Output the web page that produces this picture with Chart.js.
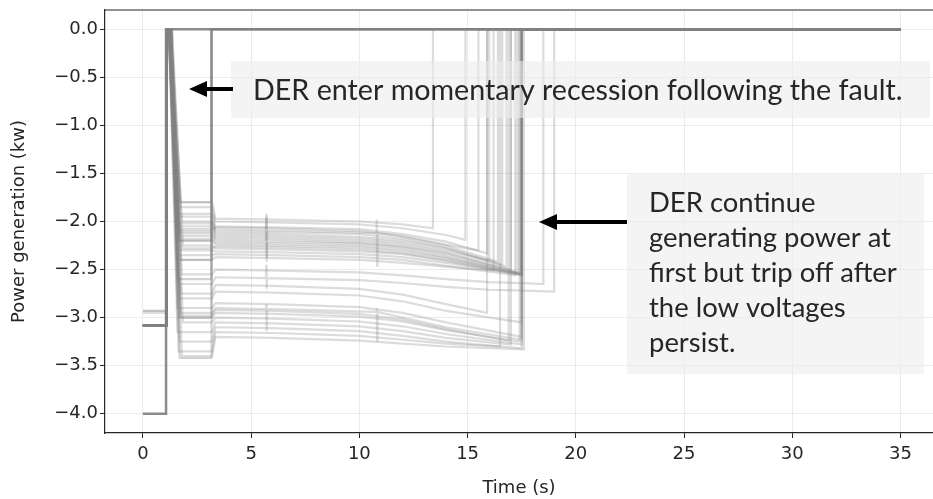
<!DOCTYPE html>
<html>
<head>
<meta charset="utf-8">
<script src="https://cdn.jsdelivr.net/npm/chart.js@4.4.1/dist/chart.umd.min.js"></script>
<style>
  html, body { margin: 0; padding: 0; background: #fff; overflow: hidden; }
</style>
</head>
<body>
<canvas id="chart" width="933" height="499"></canvas>
<script>
// tick labels
var xTickValues = [0, 5, 10, 15, 20, 25, 30, 35];
var yTickValues = [-4.0, -3.5, -3.0, -2.5, -2.0, -1.5, -1.0, -0.5, 0.0];

// each trace is a list of [time (s), power (kW)] points
var fastTrip = [[0,-4.0],[1.07,-4.0],[1.07,0],[35,0]];

var earlyTrips = [
  [[0,-3.08],[1.08,-3.08],[1.1,0],[1.3,0],[1.7,-3.42],[3.15,-3.42],[3.17,0],[35,0]],
  [[0,-3.08],[1.08,-3.08],[1.1,0],[1.2,0],[1.6,-2.6],[3.15,-2.6],[3.17,0],[35,0]],
  [[0,-3.08],[1.08,-3.08],[1.1,0],[1.25,0],[1.7,-1.8],[3.15,-1.8],[3.17,0],[35,0]],
  [[0,-3.08],[1.08,-3.08],[1.1,0],[1.3,0],[1.65,-2.2],[3.15,-2.2],[3.17,0],[35,0]],
  [[0,-3.08],[1.08,-3.08],[1.1,0],[1.2,0],[1.75,-3.0],[3.15,-3.0],[3.17,0],[35,0]],
  [[0,-3.08],[1.08,-3.08],[1.1,0],[1.25,0],[1.6,-2.4],[3.15,-2.4],[3.17,0],[35,0]]
];

var upperTraces = [
  [[0,-2.93],[1.08,-2.93],[1.12,0],[1.3,0],[1.75,-1.8],[3.2,-1.8],[3.35,-1.97],[6,-1.98],[10,-2.0],[12,-2.03],[13.4,-2.07],[13.4,0],[35,0]],
  [[0,-3.08],[1.08,-3.08],[1.1,0],[1.25,0],[1.7,-1.85],[3.2,-1.85],[3.35,-2.0],[6,-2.01],[10,-2.03],[12,-2.07],[14,-2.14],[14.9,-2.19],[14.9,0],[35,0]],
  [[0,-3.08],[1.08,-3.08],[1.1,0],[1.2,0],[1.6,-1.92],[3.2,-1.92],[3.35,-2.05],[6,-2.06],[10,-2.08],[12,-2.13],[14,-2.21],[15.9,-2.33],[15.9,0],[35,0]],
  [[0,-3.08],[1.08,-3.08],[1.1,0],[1.3,0],[1.8,-2.0],[3.2,-2.0],[3.35,-2.08],[5.68,-2.09],[5.7,-1.92],[5.72,-2.42],[5.74,-2.09],[10.78,-2.12],[10.8,-1.98],[10.82,-2.46],[10.84,-2.12],[12,-2.16],[14,-2.25],[16.4,-2.42],[16.4,0],[35,0]],
  [[0,-3.08],[1.08,-3.08],[1.1,0],[1.2,0],[1.55,-2.05],[3.2,-2.05],[3.35,-2.12],[6,-2.13],[10,-2.16],[12,-2.2],[14,-2.28],[16.8,-2.47],[16.8,0],[35,0]],
  [[0,-3.08],[1.08,-3.08],[1.1,0],[1.25,0],[1.65,-2.1],[3.2,-2.1],[3.35,-2.16],[6,-2.17],[10,-2.2],[12,-2.24],[14,-2.32],[17.0,-2.5],[17.0,0],[35,0]],
  [[0,-3.08],[1.08,-3.08],[1.1,0],[1.3,0],[1.7,-2.15],[3.2,-2.15],[3.35,-2.2],[5.68,-2.21],[5.7,-1.95],[5.72,-2.38],[5.74,-2.21],[10,-2.23],[12,-2.27],[14,-2.35],[17.3,-2.53],[17.3,0],[35,0]],
  [[0,-3.08],[1.08,-3.08],[1.1,0],[1.2,0],[1.6,-2.2],[3.2,-2.2],[3.35,-2.24],[6,-2.25],[10,-2.27],[12,-2.31],[14,-2.38],[17.5,-2.55],[17.5,0],[35,0]],
  [[0,-3.08],[1.08,-3.08],[1.1,0],[1.35,0],[1.85,-2.25],[3.2,-2.25],[3.35,-2.28],[6,-2.29],[10,-2.31],[12,-2.34],[14,-2.41],[17.5,-2.56],[17.5,0],[35,0]],
  [[0,-3.08],[1.08,-3.08],[1.1,0],[1.25,0],[1.7,-2.3],[3.2,-2.3],[3.35,-2.31],[6,-2.32],[10,-2.34],[12,-2.37],[14,-2.43],[17.5,-2.55],[17.5,0],[35,0]],
  [[0,-3.08],[1.08,-3.08],[1.1,0],[1.2,0],[1.6,-2.35],[3.2,-2.35],[3.35,-2.34],[6,-2.35],[10,-2.37],[12,-2.4],[14,-2.46],[17.2,-2.56],[17.2,0],[35,0]],
  [[0,-3.08],[1.08,-3.08],[1.1,0],[1.3,0],[1.75,-2.4],[3.2,-2.4],[3.35,-2.37],[6,-2.38],[10,-2.4],[12,-2.43],[14,-2.47],[16.2,-2.51],[16.2,0],[35,0]],
  [[0,-3.08],[1.08,-3.08],[1.1,0],[1.2,0],[1.65,-1.95],[3.2,-1.95],[3.35,-2.1],[6,-2.11],[10,-2.13],[12,-2.18],[14,-2.27],[16.6,-2.45],[16.6,0],[35,0]],
  [[0,-3.08],[1.08,-3.08],[1.1,0],[1.25,0],[1.7,-2.12],[3.2,-2.12],[3.35,-2.18],[6,-2.19],[10,-2.22],[12,-2.26],[14,-2.33],[17.5,-2.54],[17.5,0],[35,0]],
  [[0,-3.08],[1.08,-3.08],[1.1,0],[1.3,0],[1.6,-2.02],[3.2,-2.02],[3.35,-2.14],[6,-2.15],[10,-2.18],[12,-2.22],[14,-2.3],[16.0,-2.41],[16.0,0],[35,0]],
  [[0,-3.08],[1.08,-3.08],[1.1,0],[1.2,0],[1.7,-2.18],[3.2,-2.18],[3.35,-2.22],[6,-2.23],[10,-2.25],[12,-2.29],[14,-2.37],[17.5,-2.55],[17.5,0],[35,0]],
  [[0,-3.08],[1.08,-3.08],[1.1,0],[1.25,0],[1.8,-2.28],[3.2,-2.28],[3.35,-2.26],[6,-2.27],[10,-2.29],[12,-2.33],[14,-2.4],[17.4,-2.55],[17.4,0],[35,0]],
  [[0,-3.08],[1.08,-3.08],[1.1,0],[1.3,0],[1.65,-2.08],[3.2,-2.08],[3.35,-2.06],[6,-2.07],[10,-2.1],[12,-2.15],[14,-2.24],[15.5,-2.3],[15.5,0],[35,0]]
];

var middleTraces = [
  [[0,-3.08],[1.08,-3.08],[1.1,0],[1.3,0],[1.8,-2.55],[3.2,-2.55],[3.35,-2.5],[6,-2.51],[10,-2.53],[12,-2.56],[14,-2.6],[16,-2.63],[17.6,-2.64],[18.5,-2.65],[18.5,0],[35,0]],
  [[0,-3.08],[1.08,-3.08],[1.1,0],[1.2,0],[1.65,-2.65],[3.2,-2.65],[3.35,-2.58],[5.68,-2.59],[5.7,-2.45],[5.72,-2.7],[5.74,-2.59],[10,-2.61],[12,-2.64],[14,-2.68],[16,-2.71],[17.6,-2.72],[19.0,-2.73],[19.0,0],[35,0]],
  [[0,-2.93],[1.08,-2.93],[1.12,0],[1.3,0],[1.75,-2.75],[3.2,-2.75],[3.35,-2.66],[6,-2.67],[10,-2.7],[12,-2.76],[14,-2.86],[15.9,-2.95],[15.9,0],[35,0]],
  [[0,-3.08],[1.08,-3.08],[1.1,0],[1.25,0],[1.7,-2.8],[3.2,-2.8],[3.35,-2.73],[6,-2.74],[10,-2.77],[12,-2.83],[14,-2.93],[17.5,-3.05],[17.5,0],[35,0]]
];

var lowerTraces = [
  [[0,-3.08],[1.08,-3.08],[1.1,0],[1.2,0],[1.6,-2.9],[3.2,-2.9],[3.35,-2.85],[6,-2.86],[10,-2.89],[12,-2.95],[14,-3.05],[17.5,-3.2],[17.5,0],[35,0]],
  [[0,-3.08],[1.08,-3.08],[1.1,0],[1.3,0],[1.75,-2.95],[3.2,-2.95],[3.35,-2.9],[5.68,-2.91],[5.7,-2.86],[5.72,-3.14],[5.74,-2.91],[10.78,-2.94],[10.8,-2.9],[10.82,-3.24],[10.84,-2.94],[12,-3.0],[14,-3.1],[17.5,-3.23],[17.5,0],[35,0]],
  [[0,-3.08],[1.08,-3.08],[1.1,0],[1.25,0],[1.65,-3.0],[3.2,-3.0],[3.35,-2.95],[6,-2.96],[10,-2.99],[12,-3.04],[14,-3.13],[17.4,-3.25],[17.4,0],[35,0]],
  [[0,-3.08],[1.08,-3.08],[1.1,0],[1.35,0],[1.85,-3.05],[3.2,-3.05],[3.35,-3.0],[6,-3.01],[10,-3.04],[12,-3.09],[14,-3.17],[17.5,-3.28],[17.5,0],[35,0]],
  [[0,-2.95],[1.08,-2.95],[1.12,0],[1.2,0],[1.6,-3.15],[3.2,-3.15],[3.35,-3.05],[6,-3.06],[10,-3.09],[12,-3.14],[14,-3.21],[17.0,-3.28],[17.0,0],[35,0]],
  [[0,-3.08],[1.08,-3.08],[1.1,0],[1.3,0],[1.7,-3.25],[3.2,-3.25],[3.35,-3.1],[6,-3.11],[10,-3.14],[12,-3.19],[14,-3.25],[17.5,-3.32],[17.5,0],[35,0]],
  [[0,-3.08],[1.08,-3.08],[1.1,0],[1.25,0],[1.65,-3.35],[3.2,-3.35],[3.35,-3.15],[6,-3.16],[10,-3.19],[12,-3.23],[14,-3.27],[16.5,-3.3],[16.5,0],[35,0]],
  [[0,-3.08],[1.08,-3.08],[1.1,0],[1.3,0],[1.8,-3.4],[3.2,-3.4],[3.35,-3.2],[6,-3.21],[10,-3.24],[12,-3.27],[14,-3.3],[17.6,-3.33],[17.6,0],[35,0]],
  [[0,-3.08],[1.08,-3.08],[1.1,0],[1.2,0],[1.7,-2.98],[3.2,-2.98],[3.35,-2.92],[6,-2.93],[10,-2.96],[12,-3.02],[14,-3.12],[16.9,-3.24],[16.9,0],[35,0]]
];

var noteTop = "DER enter momentary recession following the fault.";
var noteRight = ["DER continue", "generating power at", "first but trip off after", "the low voltages", "persist."];

var ink = "#262626";
var tickFont = { family: "DejaVu Sans", size: 18 };
var datasets = [];

function addGroup(group, color, width) {
  group.forEach(function (tr) {
    datasets.push({
      data: tr.map(function (p) { return { x: p[0], y: p[1] }; }),
      borderColor: color,
      borderWidth: width,
      pointRadius: 0,
      showLine: true,
      fill: false,
      tension: 0
    });
  });
}
addGroup(upperTraces, "rgba(128,128,128,0.28)", 2.2);
addGroup(middleTraces, "rgba(128,128,128,0.28)", 2.2);
addGroup(lowerTraces, "rgba(128,128,128,0.28)", 2.2);
addGroup(earlyTrips, "rgba(128,128,128,0.35)", 2.2);
addGroup([fastTrip], "rgba(128,128,128,0.9)", 2.5);

// fit a font size so text spans a given width
function fitSize(ctx, text, family, width) {
  ctx.font = "100px " + family;
  return 100 * width / ctx.measureText(text).width;
}

function arrowLeft(ctx, tipX, y, tailX) {
  ctx.strokeStyle = "#000";
  ctx.fillStyle = "#000";
  ctx.lineWidth = 4;
  ctx.beginPath();
  ctx.moveTo(tailX, y);
  ctx.lineTo(tipX + 14, y);
  ctx.stroke();
  ctx.beginPath();
  ctx.moveTo(tipX, y);
  ctx.lineTo(tipX + 18, y - 8);
  ctx.lineTo(tipX + 18, y + 8);
  ctx.closePath();
  ctx.fill();
}

var notesPlugin = {
  id: "notes",
  afterDatasetsDraw: function (chart) {
    var ctx = chart.ctx;
    var area = chart.chartArea;
    ctx.save();
    // top spine
    ctx.strokeStyle = ink;
    ctx.lineWidth = 1.2;
    ctx.beginPath();
    ctx.moveTo(area.left, area.top);
    ctx.lineTo(area.right, area.top);
    ctx.stroke();

    var family = "Lato";
    // first note
    ctx.fillStyle = "rgba(236,236,236,0.6)";
    ctx.fillRect(231, 61, 699, 57);
    var s1 = fitSize(ctx, noteTop, family, 650);
    ctx.font = s1 + "px " + family;
    ctx.fillStyle = ink;
    ctx.textBaseline = "alphabetic";
    ctx.fillText(noteTop, 253, 100);
    arrowLeft(ctx, 189, 89, 233);

    // second note
    ctx.fillStyle = "rgba(236,236,236,0.6)";
    ctx.fillRect(627, 174, 297, 200);
    var s2 = fitSize(ctx, noteRight[2], family, 248);
    ctx.font = s2 + "px " + family;
    ctx.fillStyle = ink;
    noteRight.forEach(function (line, i) {
      ctx.fillText(line, 649, 212 + i * 35);
    });
    arrowLeft(ctx, 539, 222, 627);
    ctx.restore();
  }
};

new Chart(document.getElementById("chart"), {
  type: "scatter",
  data: { datasets: datasets },
  options: {
    responsive: false,
    animation: false,
    layout: { padding: { top: 10, right: 0, bottom: 0, left: 0 } },
    plugins: { legend: { display: false }, tooltip: { enabled: false } },
    scales: {
      x: {
        type: "linear",
        min: -1.75,
        max: 36.5,
        afterBuildTicks: function (s) { s.ticks = xTickValues.map(function (v) { return { value: v }; }); },
        afterFit: function (s) { s.height = 66; s.paddingLeft = 0; s.paddingRight = 0; },
        grid: { color: "#ebebeb", tickColor: ink, tickLength: 5 },
        border: { color: ink, width: 1.2 },
        ticks: { color: ink, font: tickFont, padding: 6, maxRotation: 0, callback: function (v) { return String(v); } },
        title: { display: true, text: "Time (s)", color: ink, font: tickFont, padding: { top: 0, bottom: 0 } }
      },
      y: {
        type: "linear",
        min: -4.2,
        max: 0.2,
        afterBuildTicks: function (s) { s.ticks = yTickValues.map(function (v) { return { value: v }; }); },
        afterFit: function (s) { s.width = 105; s.paddingTop = 0; s.paddingBottom = 0; },
        grid: { color: "#ebebeb", tickColor: ink, tickLength: 5 },
        border: { color: ink, width: 1.2 },
        ticks: {
          color: ink, font: tickFont, padding: 2,
          callback: function (v) { return (v < 0 ? "\u2212" : "") + Math.abs(v).toFixed(1); }
        },
        title: { display: true, text: "Power generation (kw)", color: ink, font: tickFont, padding: { top: 9, bottom: 0 } }
      }
    }
  },
  plugins: [notesPlugin]
});
</script>
</body>
</html>
